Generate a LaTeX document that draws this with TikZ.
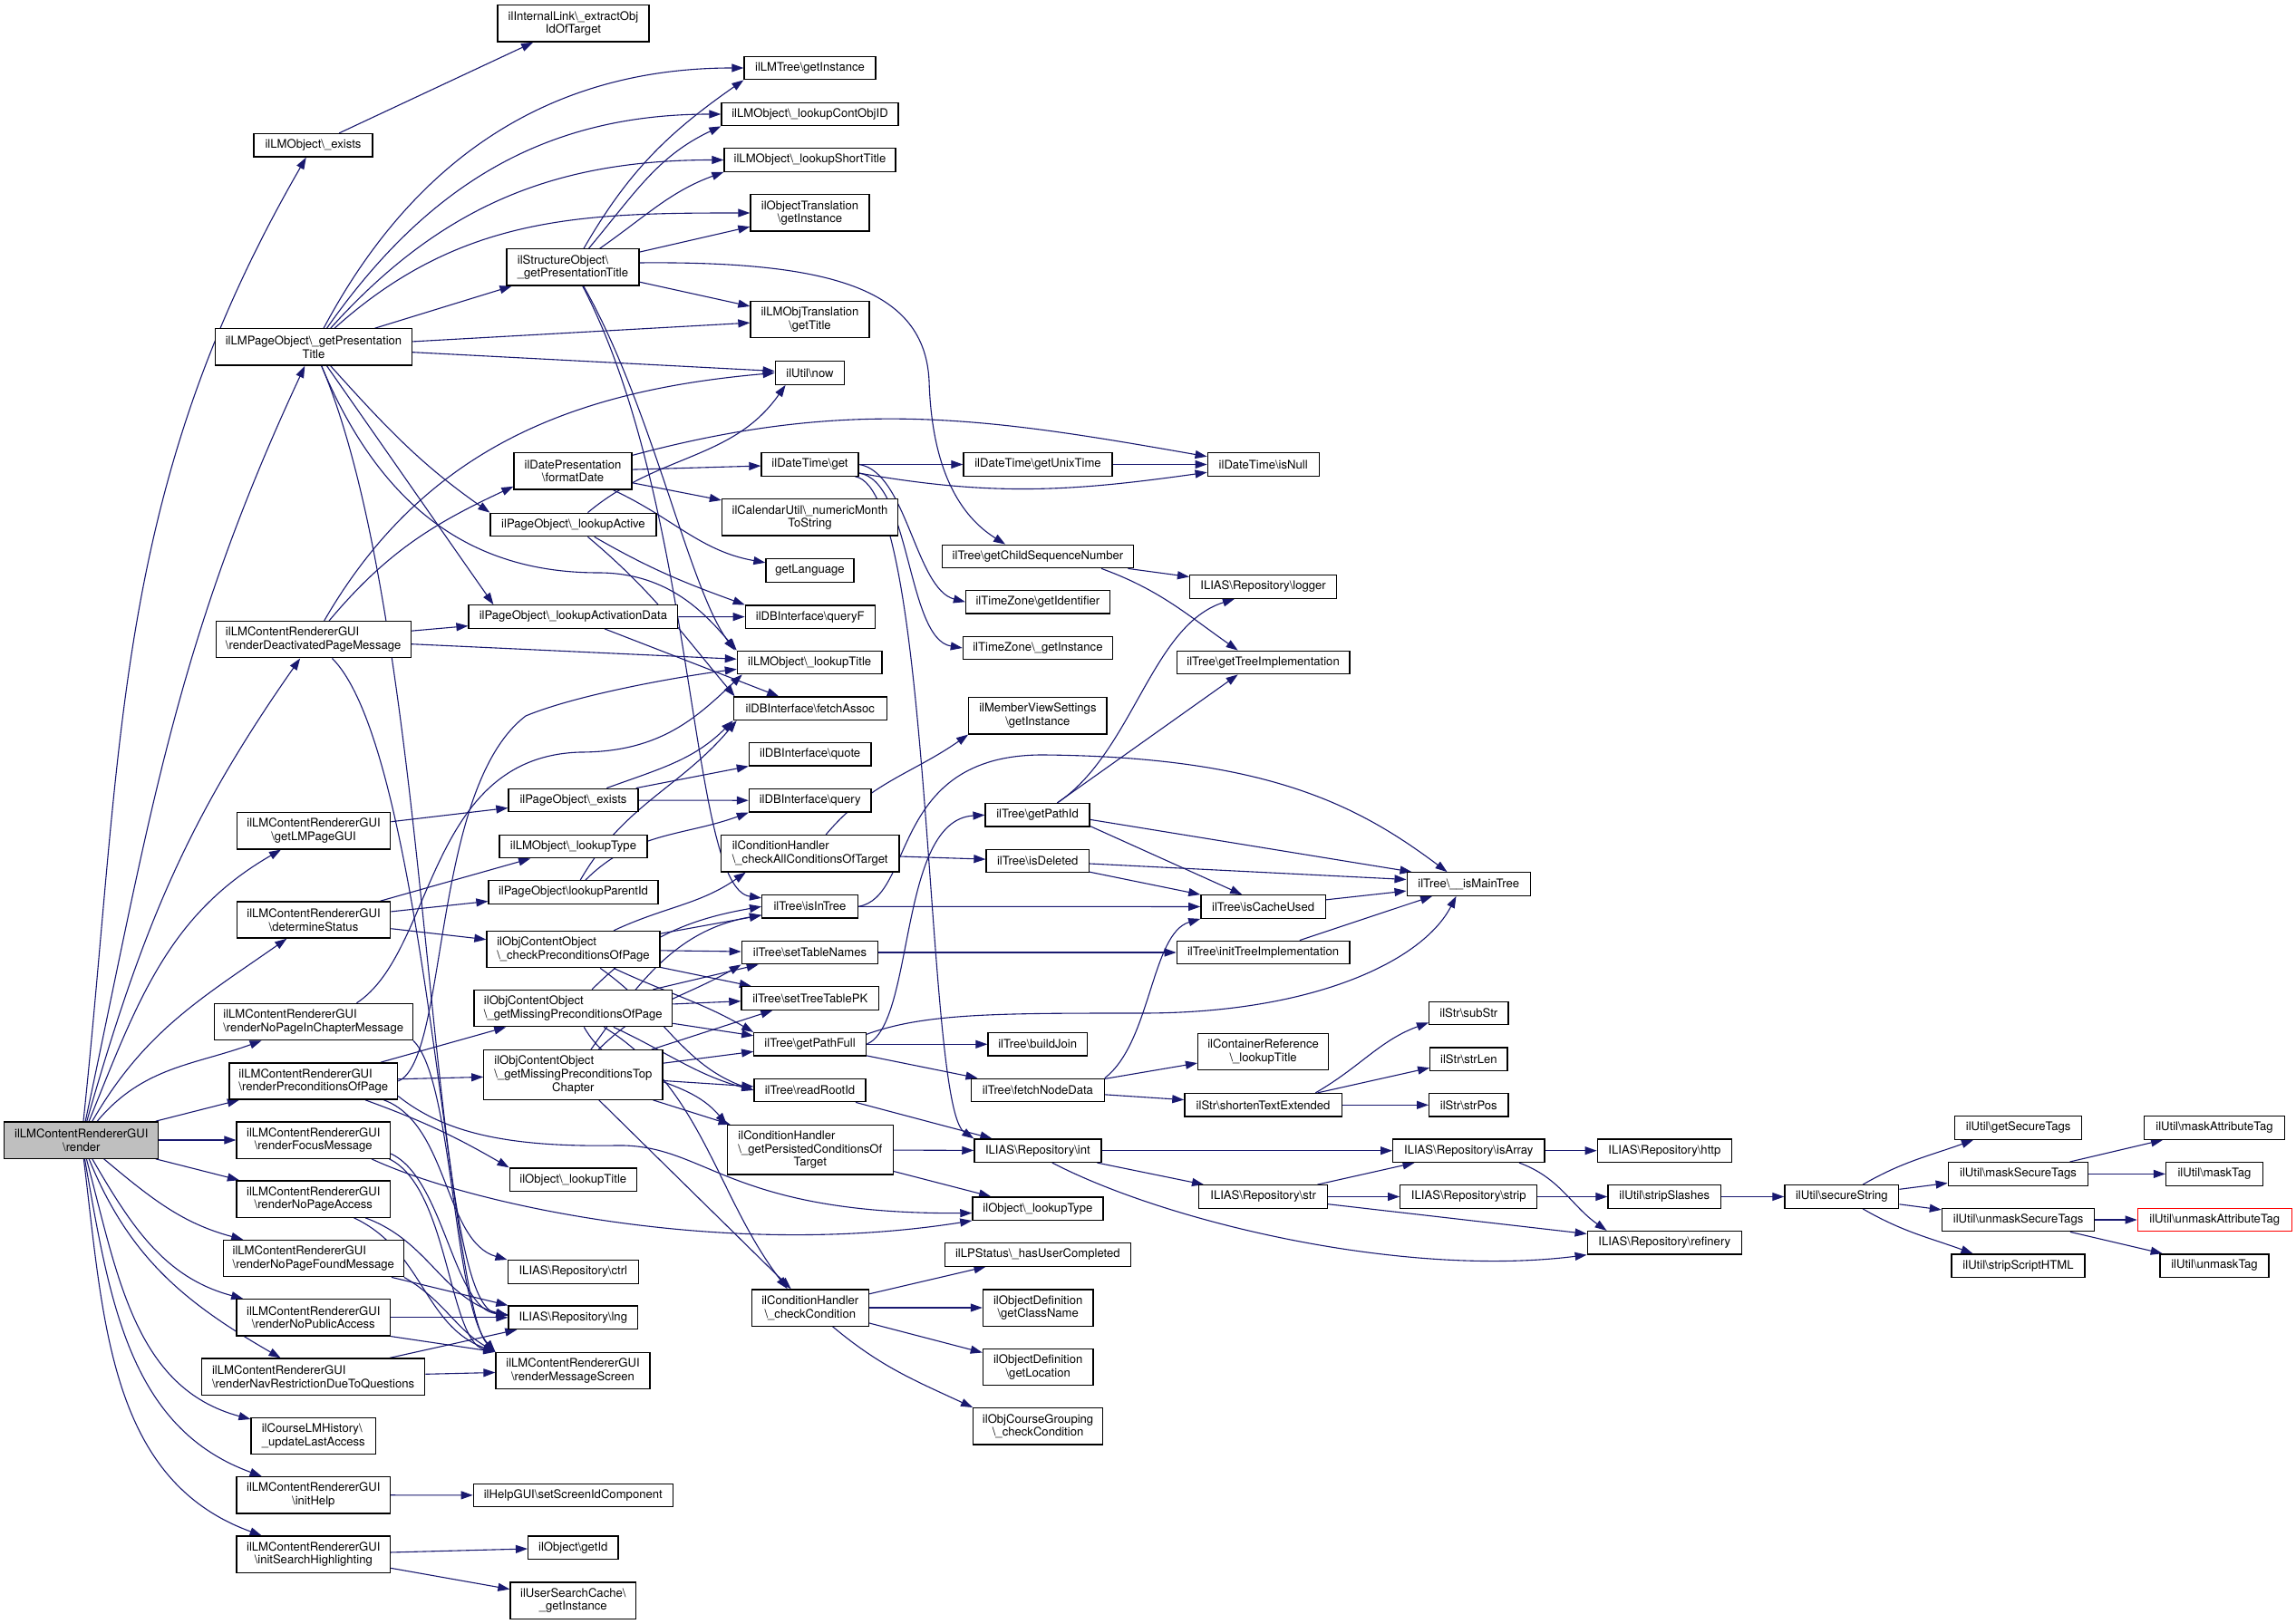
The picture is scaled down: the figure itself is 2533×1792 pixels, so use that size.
\documentclass[tikz,border=0pt]{standalone}
\usepackage{fontspec}
\setmainfont{TeX Gyre Heros}
\usetikzlibrary{arrows.meta,calc}
\definecolor{mblue}{RGB}{25,25,112}
\definecolor{rootgray}{RGB}{191,191,191}
\newcommand{\bs}{\textbackslash}
\newcommand{\nf}{\fontsize{1.31pt}{1.46pt}\selectfont}
\newcommand{\lft}[2]{\rlap{#1}\phantom{#2}}
\pgfdeclarelayer{bglayer}
\pgfdeclarelayer{edgelayer}
\pgfsetlayers{bglayer,edgelayer,main}
\begin{document}
\begin{tikzpicture}[x=0.1pt,y=0.1pt,
  nd/.style={draw=black, line width=0.13pt, fill=white, inner xsep=0pt, inner ysep=0pt, align=center, font=\nf, minimum height=2.55pt},
  nd2/.style={nd, minimum height=4.03pt},
  nd3/.style={nd, minimum height=5.45pt},
  w/.style={minimum width=0.1*#1pt},
  ed/.style={draw=mblue, line width=0.11pt, -{Triangle[length=1.3pt,width=0.9pt]}}]
\begin{pgfonlayer}{bglayer}
\fill[white] (0,0) rectangle (2533,-1792);
\end{pgfonlayer}
\useasboundingbox (0,0) rectangle (2533,-1792);

% column 0
\node[nd2, fill=rootgray, w=170] (R) at (89.8,-1258) {ilLMContentRendererGUI\\\bs render};
% column 1
\node[nd, w=131] (exists) at (345.5,-160.3) {ilLMObject\bs\_exists};
\node[nd2, w=217] (PT) at (346,-383) {ilLMPageObject\bs\_getPresentation\\Title};
\node[nd2, w=215] (rDeact) at (345.7,-705.7) {\lft{ilLMContentRendererGUI}{\bs renderDeactivatedPageMessage}\\\bs renderDeactivatedPageMessage};
\node[nd2, w=169.5] (getLMPage) at (346,-916.8) {ilLMContentRendererGUI\\\bs getLMPageGUI};
\node[nd2, w=169.5] (detStatus) at (346,-1015) {ilLMContentRendererGUI\\\bs determineStatus};
\node[nd2, w=219] (rNoPIC) at (345.7,-1127.5) {\lft{ilLMContentRendererGUI}{\bs renderNoPageInChapterMessage}\\\bs renderNoPageInChapterMessage};
\node[nd2, w=185.6] (rPrecond) at (345.8,-1193) {\lft{ilLMContentRendererGUI}{\bs renderPreconditionsOfPage}\\\bs renderPreconditionsOfPage};
\node[nd2, w=169.5] (rFocus) at (345.8,-1258) {ilLMContentRendererGUI\\\bs renderFocusMessage};
\node[nd2, w=169.5] (rNoPA) at (345.8,-1323) {ilLMContentRendererGUI\\\bs renderNoPageAccess};
\node[nd2, w=198.7] (rNoPF) at (345.8,-1388.6) {\lft{ilLMContentRendererGUI}{\bs renderNoPageFoundMessage}\\\bs renderNoPageFoundMessage};
\node[nd2, w=169.5] (rNoPub) at (345.8,-1453.8) {ilLMContentRendererGUI\\\bs renderNoPublicAccess};
\node[nd2, w=246.4] (rNav) at (345.6,-1519.2) {\lft{ilLMContentRendererGUI}{\bs renderNavRestrictionDueToQuestions}\\\bs renderNavRestrictionDueToQuestions};
\node[nd2, w=137.5] (hist) at (345.8,-1584.6) {\lft{ilCourseLMHistory\bs}{\_updateLastAccess}\\\_updateLastAccess};
\node[nd2, w=169.5] (initHelp) at (345.8,-1649.7) {ilLMContentRendererGUI\\\bs initHelp};
\node[nd2, w=169.5] (initSH) at (345.8,-1715.2) {ilLMContentRendererGUI\\\bs initSearchHighlighting};
% column 2
\node[nd2, w=167] (intlink) at (632.5,-26) {ilInternalLink\bs\_extractObj\\IdOfTarget};
\node[nd2, w=146] (struct) at (632,-295) {\lft{ilStructureObject\bs}{\_getPresentationTitle}\\\_getPresentationTitle};
\node[nd2, w=130] (datepres) at (632,-520) {ilDatePresentation\\\bs formatDate};
\node[nd, w=183] (lActive) at (632.5,-579) {ilPageObject\bs\_lookupActive};
\node[nd, w=230.7] (lActData) at (632.4,-680.5) {ilPageObject\bs\_lookupActivationData};
\node[nd, w=143] (pExists) at (632.5,-883) {ilPageObject\bs\_exists};
\node[nd, w=163] (lmType) at (632.5,-934) {ilLMObject\bs\_lookupType};
\node[nd, w=187] (parentId) at (632.5,-984.5) {ilPageObject\bs lookupParentId};
\node[nd2, w=191] (chkPre) at (632.5,-1047.6) {\lft{ilObjContentObject}{\bs\_checkPreconditionsOfPage}\\\bs\_checkPreconditionsOfPage};
\node[nd2, w=218.6] (missPage) at (632.3,-1112.6) {\lft{ilObjContentObject}{\bs\_getMissingPreconditionsOfPage}\\\bs\_getMissingPreconditionsOfPage};
\node[nd3, w=197.3] (missTop) at (632.4,-1186) {\lft{ilObjContentObject}{\bs\_getMissingPreconditionsTop}\\\bs\_getMissingPreconditionsTop\\Chapter};
\node[nd, w=140.2] (oTitle) at (632.3,-1301.7) {ilObject\bs\_lookupTitle};
\node[nd, w=144.3] (ctrl) at (632.3,-1403.4) {ILIAS\bs Repository\bs ctrl};
\node[nd, w=142.6] (lng) at (632.3,-1453.8) {ILIAS\bs Repository\bs lng};
\node[nd2, w=170] (rMsg) at (632,-1512.5) {ilLMContentRendererGUI\\\bs renderMessageScreen};
\node[nd, w=220] (help) at (632.3,-1650) {ilHelpGUI\bs setScreenIdComponent};
\node[nd, w=99.4] (getId) at (632.3,-1707.7) {ilObject\bs getId};
\node[nd2, w=138.6] (usc) at (632.3,-1766) {ilUserSearchCache\bs\\\_getInstance};
% column 3
\node[nd, w=145] (LMTree) at (893.5,-75) {ilLMTree\bs getInstance};
\node[nd, w=195] (ContObjID) at (893.5,-126) {ilLMObject\bs\_lookupContObjID};
\node[nd, w=189] (ShortTitle) at (893.5,-176.5) {ilLMObject\bs\_lookupShortTitle};
\node[nd2, w=131] (ObjTrans) at (893.5,-235) {ilObjectTranslation\\\bs getInstance};
\node[nd2, w=131] (LMObjTrans) at (893.5,-352.5) {ilLMObjTranslation\\\bs getTitle};
\node[nd, w=76.5] (now) at (893.5,-411.5) {ilUtil\bs now};
\node[nd, w=107] (DTget) at (893.5,-512.5) {ilDateTime\bs get};
\node[nd2, w=194] (CalUtil) at (893.5,-571) {ilCalendarUtil\bs\_numericMonth\\ToString};
\node[nd, w=97] (getLanguage) at (893.5,-629.5) {getLanguage};
\node[nd, w=143] (queryF) at (893.8,-680.7) {ilDBInterface\bs queryF};
\node[nd, w=159.6] (LMlookupTitle) at (893.2,-731) {ilLMObject\bs\_lookupTitle};
\node[nd, w=169] (fetchAssoc) at (893.8,-781.8) {ilDBInterface\bs fetchAssoc};
\node[nd, w=134.6] (quote) at (893.7,-832.4) {ilDBInterface\bs quote};
\node[nd, w=134.6] (query) at (893.7,-883.3) {ilDBInterface\bs query};
\node[nd2, w=196.6] (checkAll) at (893.7,-941.8) {\lft{ilConditionHandler}{\bs\_checkAllConditionsOfTarget}\\\bs\_checkAllConditionsOfTarget};
\node[nd, w=105.7] (isInTree) at (893.5,-1000.3) {ilTree\bs isInTree};
\node[nd, w=150.5] (setTableNames) at (893.5,-1051) {ilTree\bs setTableNames};
\node[nd, w=151.7] (setTreeTablePK) at (893.8,-1101.5) {ilTree\bs setTreeTablePK};
\node[nd, w=123.6] (getPathFull) at (893.6,-1152.3) {ilTree\bs getPathFull};
\node[nd, w=123] (readRootId) at (893.5,-1203) {ilTree\bs readRootId};
\node[nd3, w=182.8] (getPersisted) at (893.8,-1268.7) {\lft{ilConditionHandler}{\bs\_getPersistedConditionsOf}\\\bs\_getPersistedConditionsOf\\Target};
\node[nd2, w=129] (checkCondition) at (893.8,-1443) {ilConditionHandler\\\bs\_checkCondition};
% column 4
\node[nd, w=164] (getUnixTime) at (1145,-512.5) {ilDateTime\bs getUnixTime};
\node[nd, w=210.5] (getChildSeq) at (1145,-614) {ilTree\bs getChildSequenceNumber};
\node[nd, w=158.7] (getIdentifier) at (1144.9,-664.2) {ilTimeZone\bs getIdentifier};
\node[nd, w=165] (TZgetInstance) at (1144.9,-715) {ilTimeZone\bs\_getInstance};
\node[nd2, w=152.2] (MemberView) at (1144.9,-789.8) {ilMemberViewSettings\\\bs getInstance};
\node[nd, w=115] (getPathId) at (1144.6,-899.3) {ilTree\bs getPathId};
\node[nd, w=113.4] (isDeleted) at (1144.7,-950) {ilTree\bs isDeleted};
\node[nd, w=109.4] (buildJoin) at (1144.7,-1152.3) {ilTree\bs buildJoin};
\node[nd, w=146.5] (fetchNodeData) at (1144.9,-1203) {ilTree\bs fetchNodeData};
\node[nd, w=140] (int) at (1144.9,-1269.7) {ILIAS\bs Repository\bs int};
\node[nd, w=144] (ObjlookupType) at (1144.9,-1333.6) {ilObject\bs\_lookupType};
\node[nd, w=205.2] (LPStatus) at (1144.9,-1384.4) {ilLPStatus\bs\_hasUserCompleted};
\node[nd2, w=121.6] (getClassName) at (1145.2,-1443) {ilObjectDefinition\\\bs getClassName};
\node[nd2, w=121.6] (getLocation) at (1145.2,-1508.5) {ilObjectDefinition\\\bs getLocation};
\node[nd2, w=142.8] (CourseGrouping) at (1145.1,-1573.8) {ilObjCourseGrouping\\\bs\_checkCondition};
% column 5
\node[nd, w=123] (isNull) at (1393.7,-512.5) {ilDateTime\bs isNull};
\node[nd, w=162] (logger) at (1393.6,-647.5) {ILIAS\bs Repository\bs logger};
\node[nd, w=190.6] (getTreeImpl) at (1393.6,-731) {ilTree\bs getTreeImplementation};
\node[nd, w=137.5] (isCacheUsed) at (1393.6,-1000.5) {ilTree\bs isCacheUsed};
\node[nd, w=190.6] (initTreeImpl) at (1393.6,-1051) {ilTree\bs initTreeImplementation};
\node[nd2, w=144] (ContainerRef) at (1393.6,-1160.7) {ilContainerReference\\\bs\_lookupTitle};
\node[nd, w=173.4] (shorten) at (1393.6,-1219.3) {ilStr\bs shortenTextExtended};
\node[nd, w=141.6] (str) at (1393.6,-1320.5) {ILIAS\bs Repository\bs str};
% column 6
\node[nd, w=136.3] (isMainTree) at (1620.3,-975.5) {ilTree\bs\_\_isMainTree};
\node[nd, w=87.3] (subStr) at (1620.3,-1118) {ilStr\bs subStr};
\node[nd, w=85.3] (strLen) at (1620.4,-1168.6) {ilStr\bs strLen};
\node[nd, w=87.3] (strPos) at (1620.3,-1219.3) {ilStr\bs strPos};
\node[nd, w=167.3] (isArray) at (1620.3,-1269.7) {ILIAS\bs Repository\bs isArray};
\node[nd, w=151] (strip) at (1620.3,-1320.5) {ILIAS\bs Repository\bs strip};
% column 7
\node[nd, w=148.4] (http) at (1836.4,-1269.7) {ILIAS\bs Repository\bs http};
\node[nd, w=124.6] (stripSlashes) at (1836.3,-1320.5) {ilUtil\bs stripSlashes};
\node[nd, w=170.2] (refinery) at (1836.3,-1371.3) {ILIAS\bs Repository\bs refinery};
% column 8
\node[nd, w=125.8] (secureString) at (2031.9,-1320.5) {ilUtil\bs secureString};
% column 9
\node[nd, w=140] (getSecureTags) at (2226.6,-1244.5) {ilUtil\bs getSecureTags};
\node[nd, w=154.5] (maskSecureTags) at (2226.5,-1295.4) {ilUtil\bs maskSecureTags};
\node[nd, w=168.3] (unmaskSecureTags) at (2226.6,-1346) {ilUtil\bs unmaskSecureTags};
\node[nd, w=146.8] (stripScriptHTML) at (2226.5,-1396.6) {ilUtil\bs stripScriptHTML};
% column 10
\node[nd, w=155] (maskAttributeTag) at (2443,-1244.5) {ilUtil\bs maskAttributeTag};
\node[nd, w=106.9] (maskTag) at (2443,-1295.4) {ilUtil\bs maskTag};
\node[nd, draw=red, w=170] (unmaskAttributeTag) at (2443.3,-1346) {ilUtil\bs unmaskAttributeTag};
\node[nd, w=119.8] (unmaskTag) at (2443,-1396.6) {ilUtil\bs unmaskTag};

\begin{pgfonlayer}{edgelayer}
% render
\draw[ed] (R) to[out=84,in=240] (exists);
\draw[ed] (R) to[out=78,in=245] (PT);
\draw[ed] (R) to[out=74,in=235] (rDeact);
\draw[ed] (R) to[out=68,in=210] (getLMPage);
\draw[ed] (R) to[out=60,in=215] (detStatus);
\draw[ed] (R) to[out=50,in=200] (rNoPIC);
\draw[ed] (R) -- (rPrecond);
\draw[ed] (R) -- (rFocus);
\draw[ed] (R) -- (rNoPA);
\draw[ed] (R) to[out=-40,in=165] (rNoPF);
\draw[ed] (R) to[out=-60,in=165] (rNoPub);
\draw[ed] (R) to[out=-68,in=150] (rNav);
\draw[ed] (R) to[out=-75,in=165] (hist);
\draw[ed] (R) to[out=-80,in=160] (initHelp);
\draw[ed] (R) to[out=-83,in=160] (initSH);
% exists
\draw[ed] (exists) -- (intlink);
% PT
\draw[ed] (PT) to[out=62,in=180] (LMTree);
\draw[ed] (PT) to[out=55,in=180] (ContObjID);
\draw[ed] (PT) to[out=48,in=180] (ShortTitle);
\draw[ed] (PT) to[out=42,in=180] (ObjTrans);
\draw[ed] (PT) -- (struct);
\draw[ed] (PT) -- (LMObjTrans);
\draw[ed] (PT) -- (now);
\draw[ed] (PT) to[out=-48,in=145] (lActive.north west);
\draw[ed] (PT) to[out=-55,in=125] ($(lActData.north west)+(28,0)$);
\draw[ed] (PT) .. controls (420,-560) and (520,-632) .. (660,-632) .. controls (740,-632) and (780,-680) .. (LMlookupTitle.north west);
\draw[ed] (PT) .. controls (480,-700) and (470,-1440) .. ($(lng.west)+(0,3)$);
% struct
\draw[ed] (struct) to[out=60,in=215] (LMTree.south west);
\draw[ed] (struct) to[out=50,in=205] (ContObjID.south west);
\draw[ed] (struct) to[out=35,in=200] (ShortTitle.south west);
\draw[ed] (struct) -- (ObjTrans);
\draw[ed] (struct) -- (LMObjTrans);
\draw[ed] ($(struct.east)+(0,5)$) .. controls (920,-288) and (1020,-320) .. (1025,-420) .. controls (1028,-520) and (1060,-570) .. ($(getChildSeq.north west)+(70,0)$);
\draw[ed] (struct) .. controls (720,-450) and (760,-650) .. ($(LMlookupTitle.north west)+(-2,0)$);
\draw[ed] (struct) .. controls (770,-560) and (760,-980) .. (isInTree.170);
% datepres
\draw[ed] (datepres) -- (DTget);
\draw[ed] (datepres) to[out=15,in=170] (isNull.172);
\draw[ed] (datepres) -- (CalUtil);
\draw[ed] (datepres) to[out=-25,in=170] (getLanguage);
% DTget
\draw[ed] (DTget) -- (getUnixTime);
\draw[ed] (DTget) to[out=-10,in=188] (isNull.188);
\draw[ed] (DTget.east) .. controls (1000,-520) and (1010,-650) .. (getIdentifier.west);
\draw[ed] (DTget.-10) .. controls (1005,-530) and (1000,-705) .. (TZgetInstance.west);
\draw[ed] (DTget.-15) .. controls (1030,-540) and (1020,-1220) .. (int.north west);
\draw[ed] (getUnixTime) -- (isNull);
% lookupActive
\draw[ed] (lActive) to[out=40,in=235] ($(now.south west)+(12,0)$);
\draw[ed] (lActive) to[out=-30,in=160] (queryF.north west);
\draw[ed] (lActive) to[out=-40,in=130] ($(fetchAssoc.north west)+(2,0)$);
\draw[ed] (lActData) -- (queryF);
\draw[ed] (lActData) -- (fetchAssoc);
% page exists, parent id
\draw[ed] (pExists) -- (quote);
\draw[ed] (pExists) -- (query);
\draw[ed] (pExists) to[out=20,in=225] (fetchAssoc.south west);
\draw[ed] (parentId) to[out=45,in=200] (query.south west);
\draw[ed] (parentId) to[out=60,in=230] ($(fetchAssoc.south west)+(4,0)$);
\draw[ed] (detStatus) -- (lmType);
\draw[ed] (detStatus) -- (parentId);
\draw[ed] (detStatus) -- (chkPre);
\draw[ed] (getLMPage) -- (pExists);
% check preconditions
\draw[ed] (chkPre) to[out=25,in=215] ($(checkAll.south west)+(28,0)$);
\draw[ed] (chkPre) -- (isInTree);
\draw[ed] (chkPre) -- (setTableNames);
\draw[ed] (chkPre) -- (setTreeTablePK);
\draw[ed] (chkPre) to[out=-25,in=150] (getPathFull.north west);
\draw[ed] (chkPre) to[out=-35,in=160] (readRootId.west);
\draw[ed] (missPage) to[out=45,in=190] (isInTree.west);
\draw[ed] (missPage) -- (setTableNames);
\draw[ed] (missPage) -- (setTreeTablePK);
\draw[ed] (missPage) -- (getPathFull);
\draw[ed] (missPage) to[out=-25,in=165] (readRootId.west);
\draw[ed] (missPage) to[out=-60,in=130] (getPersisted.north west);
\draw[ed] (missPage) .. controls (775,-1200) and (790,-1320) .. ($(checkCondition.north west)+(40,0)$);
\draw[ed] (missTop) to[out=55,in=190] (isInTree.190);
\draw[ed] (missTop) to[out=45,in=210] (setTableNames.south west);
\draw[ed] (missTop) -- (setTreeTablePK);
\draw[ed] (missTop) -- (getPathFull);
\draw[ed] (missTop) -- (readRootId);
\draw[ed] (missTop) -- (getPersisted);
\draw[ed] (missTop) -- (checkCondition);
% condition handler
\draw[ed] (checkAll) to[out=50,in=215] (MemberView.south west);
\draw[ed] (checkAll) -- (isDeleted);
\draw[ed] (getPersisted) -- (int);
\draw[ed] (getPersisted) -- (ObjlookupType);
\draw[ed] (checkCondition) -- (LPStatus);
\draw[ed] (checkCondition) -- (getClassName);
\draw[ed] (checkCondition) -- (getLocation);
\draw[ed] (checkCondition) to[out=-40,in=155] (CourseGrouping.north west);
% tree
\draw[ed] (isInTree) -- (isCacheUsed);
\draw[ed] (isInTree.east) .. controls (1010,-990) and (980,-833) .. (1150,-833) .. controls (1400,-835) and (1500,-890) .. ($(isMainTree.north west)+(45,0)$);
\draw[ed] (setTableNames) -- (initTreeImpl);
\draw[ed] (getPathFull.east) .. controls (1010,-1130) and (990,-905) .. (getPathId.west);
\draw[ed] (getPathFull) -- (buildJoin);
\draw[ed] (getPathFull) -- (fetchNodeData);
\draw[ed] (getPathFull.10) .. controls (1020,-1118) and (1100,-1118) .. (1260,-1118) .. controls (1450,-1118) and (1570,-1060) .. ($(isMainTree.south west)+(55,0)$);
\draw[ed] (readRootId) -- (int);
\draw[ed] ($(getPathId.north west)+(80,0)$) .. controls (1250,-830) and (1270,-690) .. ($(logger.south west)+(50,0)$);
\draw[ed] ($(getPathId.north west)+(80,0)$) -- ($(getTreeImpl.south west)+(68,0)$);
\draw[ed] (getPathId.-12) -- ($(isCacheUsed.north west)+(46,0)$);
\draw[ed] (getPathId.-5) -- ($(isMainTree.north west)+(6,0)$);
\draw[ed] (isDeleted.-3) -- ($(isMainTree.west)+(0,5)$);
\draw[ed] (isDeleted.-12) -- (isCacheUsed.north west);
\draw[ed] (isCacheUsed) -- (isMainTree);
\draw[ed] (initTreeImpl) -- (isMainTree);
\draw[ed] (fetchNodeData.north east) .. controls (1270,-1150) and (1270,-1030) .. (isCacheUsed.south west);
\draw[ed] (fetchNodeData) -- (ContainerRef);
\draw[ed] (fetchNodeData) -- (shorten);
\draw[ed] (getChildSeq) -- (logger);
\draw[ed] ($(getChildSeq.south west)+(176,0)$) to[out=-20,in=145] ($(getTreeImpl.north west)+(68,0)$);
% repository
\draw[ed] (int) -- (isArray);
\draw[ed] (int) -- (str);
\draw[ed] (int.-40) .. controls (1290,-1350) and (1550,-1410) .. (refinery.south west);
\draw[ed] (str) -- (isArray);
\draw[ed] (str) -- (strip);
\draw[ed] (str) -- (refinery);
\draw[ed] (isArray) -- (http);
\draw[ed] ($(isArray.south west)+(140,0)$) to[out=-20,in=145] ($(refinery.north west)+(22,0)$);
\draw[ed] (strip) -- (stripSlashes);
\draw[ed] (stripSlashes) -- (secureString);
\draw[ed] (secureString) to[out=30,in=200] ($(getSecureTags.south west)+(21,0)$);
\draw[ed] (secureString) -- (maskSecureTags);
\draw[ed] (secureString) -- (unmaskSecureTags);
\draw[ed] (secureString) to[out=-30,in=160] ($(stripScriptHTML.north west)+(24,0)$);
\draw[ed] (maskSecureTags) -- (maskAttributeTag);
\draw[ed] (maskSecureTags) -- (maskTag);
\draw[ed] (unmaskSecureTags) -- (unmaskAttributeTag);
\draw[ed] (unmaskSecureTags) -- (unmaskTag);
\draw[ed] ($(shorten.north west)+(145,0)$) to[out=30,in=200] ($(subStr.south west)+(0,3)$);
\draw[ed] (shorten) -- (strLen);
\draw[ed] (shorten) -- (strPos);
% render deactivated etc.
\draw[ed] (rDeact) to[out=60,in=185] (now.west);
\draw[ed] (rDeact) to[out=50,in=205] ($(datepres.south west)+(0,4)$);
\draw[ed] (rDeact) -- (lActData);
\draw[ed] (rDeact) -- (LMlookupTitle);
\draw[ed] (rDeact) .. controls (470,-830) and (495,-1440) .. (rMsg.north west);
\draw[ed] ($(rNoPIC.north west)+(158,0)$) .. controls (480,-1050) and (470,-835) .. (640,-830) .. controls (730,-830) and (770,-790) .. ($(LMlookupTitle.south west)+(6,0)$);
\draw[ed] (rNoPIC.south east) .. controls (500,-1190) and (500,-1440) .. (rMsg.north west);
\draw[ed] (rPrecond) -- (missPage);
\draw[ed] (rPrecond) -- (missTop);
\draw[ed] (rPrecond.east) .. controls (495,-1170) and (475,-870) .. (580,-790) .. controls (640,-765) and (760,-745) .. ($(LMlookupTitle.west)+(0,-7.4)$);
\draw[ed] (rPrecond) to[out=-20,in=150] (oTitle.north west);
\draw[ed] (rPrecond.-15) .. controls (495,-1240) and (490,-1370) .. (ctrl.north west);
\draw[ed] (rPrecond.-10) .. controls (490,-1250) and (560,-1266) .. (680,-1264) .. controls (780,-1262) and (800,-1340) .. ($(ObjlookupType.west)+(0,-5)$);
\draw[ed] (rFocus.-10) .. controls (490,-1300) and (500,-1445) .. ($(lng.west)+(0,3)$);
\draw[ed] (rFocus.-14) .. controls (495,-1310) and (495,-1480) .. (rMsg.north west);
\draw[ed] (rFocus.-18) .. controls (520,-1330) and (800,-1390) .. (ObjlookupType.south west);
\draw[ed] (rNoPA) to[out=-20,in=165] ($(lng.west)+(0,2)$);
\draw[ed] (rNoPA) to[out=-25,in=160] (rMsg.north west);
\draw[ed] (rNoPF) -- (lng.north west);
\draw[ed] (rNoPF.south east) to[out=-30,in=150] (rMsg.north west);
\draw[ed] (rNoPub) -- (lng);
\draw[ed] (rNoPub.south east) -- (rMsg.north west);
\draw[ed] ($(rNav.north west)+(208,0)$) -- ($(lng.south west)+(10,0)$);
\draw[ed] (rNav) -- (rMsg);
\draw[ed] (initHelp) -- (help);
\draw[ed] (initSH) -- (getId);
\draw[ed] (initSH) -- (usc);
\end{pgfonlayer}
\end{tikzpicture}
\end{document}
